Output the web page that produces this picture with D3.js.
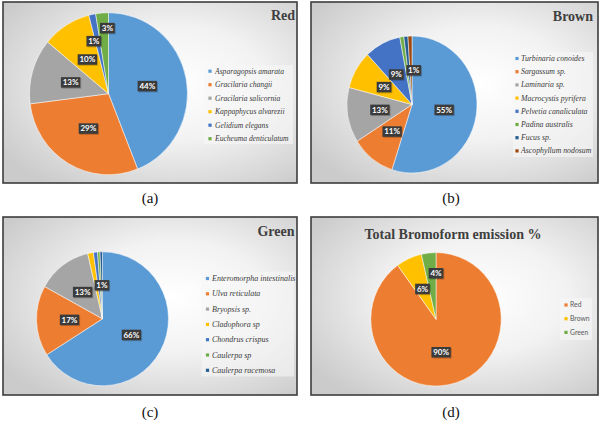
<!DOCTYPE html>
<html><head><meta charset="utf-8">
<script src="https://cdn.jsdelivr.net/npm/d3@7"></script>
<style>body{margin:0;background:#fff}</style>
</head><body>
<svg id="c" width="600" height="423"></svg>
<script>
// ---------- data ----------
const redSpecies = ["Asparagopsis amarata","Gracilaria changii","Gracilaria salicornia","Kappaphycus alvarezii","Gelidium elegans","Eucheuma denticulatum"];
const redValues = [44, 29, 13, 10, 1.4, 2.6];
const brownSpecies = ["Turbinaria conoides","Sargassum sp.","Laminaria sp.","Macrocystis pyrifera","Pelvetia canaliculata","Padina australis","Fucus sp.","Ascophyllum nodosum"];
const brownValues = [55, 11, 13, 9, 9, 1, 1, 1];
const greenSpecies = ["Enteromorpha intestinalis","Ulva reticulata","Bryopsis sp.","Cladophora sp","Chondrus crispus","Caulerpa sp","Caulerpa racemosa"];
const greenValues = [66, 17, 13.4, 1.4, 1, 0.6, 0.6];
const totalGroups = ["Red","Brown","Green"];
const totalValues = [90, 6.4, 3.6];
const titles = ["Red","Brown","Green","Total Bromoform emission %"];
const captions = ["(a)","(b)","(c)","(d)"];

// ---------- styling / layout ----------
const officePalette = ["#5B9BD5","#ED7D31","#A5A5A5","#FFC000","#4472C4","#70AD47","#255E91","#9E480E"];
const totalPalette = ["#ED7D31","#FFC000","#70AD47"];

const panels = [
  {names: redSpecies, values: redValues, colors: officePalette, title: titles[0], caption: captions[0],
   box: [3, 2, 297, 183], pie: {cx: 108.5, cy: 93.7, rx: 79, ry: 81},
   titleAt: {x: 295, y: 19.5, anchor: "end"},
   legend: {box: [204, 65, 293, 144], y0: 71.2, step: 13.5, mx: 210, tx: 215, font: 7.6, italic: true},
   labelFix: {4: {a: 344, f: 0.675}, 5: {a: 359, f: 0.81}}, hidden: []},
  {names: brownSpecies, values: brownValues, colors: officePalette, title: titles[1], caption: captions[1],
   box: [311, 2, 598, 183], pie: {cx: 412, cy: 104.5, rx: 65, ry: 68.5},
   titleAt: {x: 593, y: 20.5, anchor: "end"},
   legend: {box: [513, 52, 593, 157], y0: 58.5, step: 13.2, mx: 517, tx: 521, font: 7.8, italic: true},
   labelFix: {4: {a: 331, f: 0.5}, 7: {a: 3, f: 0.5}}, hidden: [5, 6]},
  {names: greenSpecies, values: greenValues, colors: officePalette, title: titles[2], caption: captions[2],
   box: [3, 217, 297, 395], pie: {cx: 102.5, cy: 318.8, rx: 66, ry: 67},
   titleAt: {x: 294.5, y: 236, anchor: "end"},
   legend: {box: [201.5, 271.5, 294, 376.5], y0: 278.5, step: 15.3, mx: 207.5, tx: 212, font: 8, italic: true},
   labelFix: {}, hidden: [3, 4, 5]},
  {names: totalGroups, values: totalValues, colors: totalPalette, title: titles[3], caption: captions[3],
   box: [311, 217, 598, 395], pie: {cx: 436, cy: 319.3, rx: 65.2, ry: 66.7},
   titleAt: {x: 453, y: 238.5, anchor: "middle"},
   legend: {box: [560, 298, 592, 340], y0: 305, step: 13.7, mx: 566, tx: 570, font: 6.8, italic: false},
   labelFix: {0: {a: 171, f: 0.5}, 2: {a: 0, f: 0.69}}, hidden: []}
];
const captionPos = [[150, 203], [451, 203], [150, 417], [451, 417]];

const svg = d3.select("#c");
const defs = svg.append("defs");
const grad = defs.append("radialGradient").attr("id", "bg")
  .attr("cx", "58%").attr("cy", "45%").attr("r", "70%");
grad.append("stop").attr("offset", "0%").attr("stop-color", "#ffffff");
grad.append("stop").attr("offset", "45%").attr("stop-color", "#f2f2f2");
grad.append("stop").attr("offset", "100%").attr("stop-color", "#cbcbcb");

const serif = "'Liberation Serif','Times New Roman',serif";
const sans = "Lato,'Liberation Sans',sans-serif";

panels.forEach((p, pi) => {
  const g = svg.append("g");
  const [x0, y0, x1, y1] = p.box;
  g.append("rect").attr("x", x0).attr("y", y0).attr("width", x1 - x0).attr("height", y1 - y0)
    .attr("fill", "url(#bg)").attr("stroke", "#3d3d3d").attr("stroke-width", 1.6);

  // title
  g.append("text").attr("x", p.titleAt.x).attr("y", p.titleAt.y)
    .attr("text-anchor", p.titleAt.anchor)
    .attr("font-family", serif).attr("font-weight", "bold").attr("font-size", 14)
    .attr("fill", "#3f3f3f").text(p.title);

  // pie
  const pie = d3.pie().sort(null).value(d => d);
  const arcs = pie(p.values);
  const arc = d3.arc().innerRadius(0).outerRadius(p.pie.ry);
  const color = d3.scaleOrdinal().domain(d3.range(p.values.length)).range(p.colors);
  const sx = p.pie.rx / p.pie.ry;
  const pg = g.append("g").attr("transform", `translate(${p.pie.cx},${p.pie.cy}) scale(${sx},1)`);
  pg.selectAll("path").data(arcs).join("path")
    .attr("d", arc).attr("fill", (d, i) => color(i))
    .attr("stroke", "#ffffff").attr("stroke-width", 0.5).attr("vector-effect", "non-scaling-stroke");

  // data labels (labels fully hidden under a neighbour in the reference are skipped)
  const fmt = v => Math.round(v) + "%";
  arcs.forEach((d, i) => {
    if (p.hidden.includes(i)) return;
    const fix = p.labelFix[i];
    const ang = fix ? fix.a * Math.PI / 180 : (d.startAngle + d.endAngle) / 2;
    const f = fix ? fix.f : 0.5;
    const lx = p.pie.cx + Math.sin(ang) * f * p.pie.rx;
    const ly = p.pie.cy - Math.cos(ang) * f * p.pie.ry;
    const lg = g.append("g");
    const t = lg.append("text").attr("x", lx).attr("y", ly + 2.9)
      .attr("text-anchor", "middle").attr("font-family", sans).attr("font-weight", "bold")
      .attr("font-size", 8).attr("fill", "#ffffff").text(fmt(p.values[i]));
    const w = t.node().getComputedTextLength() + 3.5;
    const h = 10.5;
    lg.insert("rect", "text").attr("x", lx - w / 2 + 1).attr("y", ly - h / 2 + 1)
      .attr("width", w).attr("height", h).attr("fill", "#000").attr("opacity", 0.22);
    lg.insert("rect", "text").attr("x", lx - w / 2).attr("y", ly - h / 2)
      .attr("width", w).attr("height", h).attr("fill", "#3b3b3b");
  });

  // legend
  const L = p.legend;
  g.append("rect").attr("x", L.box[0]).attr("y", L.box[1])
    .attr("width", L.box[2] - L.box[0]).attr("height", L.box[3] - L.box[1])
    .attr("fill", "#f7f7f7").attr("opacity", 0.6);
  const yScale = d3.scaleLinear().domain([0, 1]).range([L.y0, L.y0 + L.step]);
  p.names.forEach((n, i) => {
    const yy = yScale(i);
    g.append("rect").attr("x", L.mx - 1.6).attr("y", yy - 1.6).attr("width", 3.2).attr("height", 3.2)
      .attr("fill", color(i));
    g.append("text").attr("x", L.tx).attr("y", yy + L.font * 0.33)
      .attr("font-family", L.italic ? serif : sans)
      .attr("font-style", L.italic ? "italic" : "normal")
      .attr("font-size", L.font).attr("fill", L.italic ? "#3a3a3a" : "#595959").text(n);
  });

  // caption
  svg.append("text").attr("x", captionPos[pi][0]).attr("y", captionPos[pi][1])
    .attr("text-anchor", "middle").attr("font-family", serif).attr("font-size", 15)
    .attr("fill", "#111").text(p.caption);
});
</script>
</body></html>
